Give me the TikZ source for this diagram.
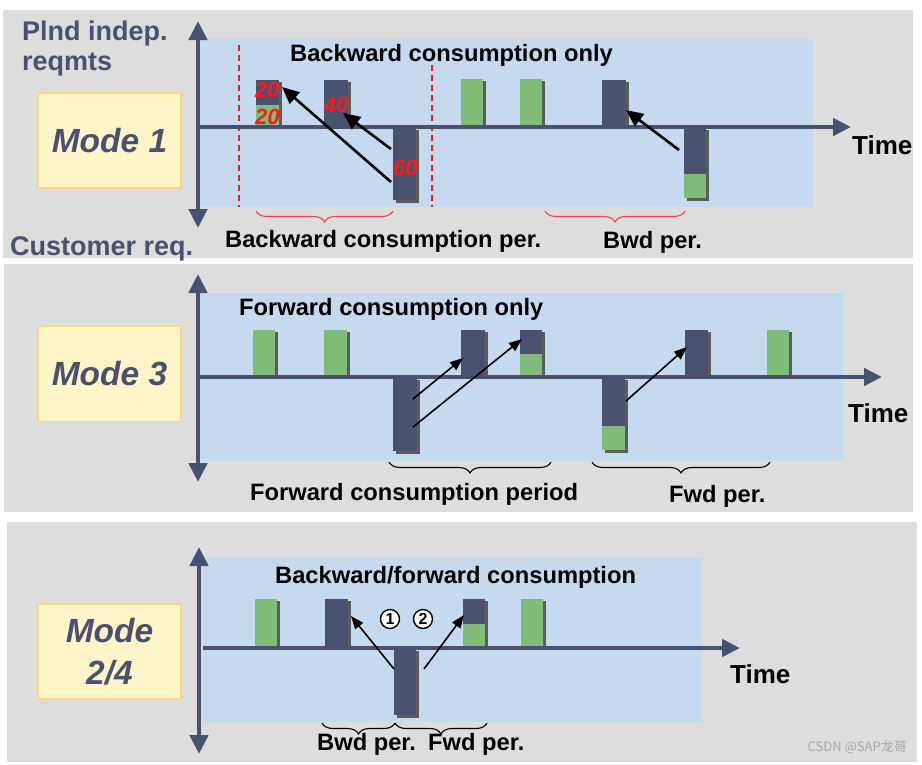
\documentclass[tikz,border=0pt]{standalone}
\usepackage{fontspec}
\setmainfont{Liberation Sans}
\newfontfamily\cjkf{Noto Sans CJK SC}
\usetikzlibrary{arrows.meta,decorations.pathreplacing,shadows}
\definecolor{bgc}{HTML}{DDDDDD}
\definecolor{bluec}{HTML}{C6DAEF}
\definecolor{axisc}{HTML}{4A5170}
\definecolor{barc}{HTML}{4A5270}
\definecolor{greenc}{HTML}{80BB78}
\definecolor{shadc}{HTML}{5C5C5C}
\definecolor{modefill}{HTML}{FFF5C9}
\definecolor{modedraw}{HTML}{FFD47F}
\definecolor{numred}{HTML}{FF1A1A}
\definecolor{bracered}{HTML}{EE4455}
\definecolor{dashred}{HTML}{E8202A}
\definecolor{wmark}{HTML}{A8A8A8}
\tikzset{
  panel/.style={fill=bgc},
  plotarea/.style={fill=bluec},
  darkbar/.style={fill=barc, inner sep=0pt, minimum width=23pt,
    drop shadow={shadow xshift=3pt,shadow yshift=-2.5pt,fill=shadc,opacity=1}},
  greenbar/.style={darkbar, fill=greenc},
  axisline/.style={draw=axisc, line width=4.5pt},
  vaxis/.style={axisline, {Triangle[length=19pt,width=18pt]}-{Triangle[length=19pt,width=18pt]}},
  haxis/.style={axisline, -{Triangle[length=18pt,width=17pt]}},
  modebox/.style={fill=modefill, draw=modedraw, line width=1.2pt, minimum width=143pt,
    minimum height=95pt, text=axisc, font=\fontsize{33.5}{42}\selectfont\bfseries\itshape, align=center},
  lbl/.style={inner sep=0pt, anchor=base west, font=\fontsize{23.7}{28}\selectfont\bfseries},
  sidelbl/.style={lbl, text=axisc, font=\fontsize{27}{31}\selectfont\bfseries},
  timelbl/.style={lbl, font=\fontsize{26}{30}\selectfont\bfseries},
  numlbl/.style={inner sep=0pt, anchor=base west, text=numred, font=\fontsize{22}{26}\selectfont\bfseries\itshape},
  bigarrow/.style={draw=black, line width=2.6pt, -{Triangle[length=17pt,width=15pt]}},
  thinarrow/.style={draw=black, line width=1.6pt, -{Triangle[length=13pt,width=10pt]}},
  redbrace/.style={draw=bracered, line width=1.1pt, decorate, decoration={brace, amplitude=11pt}},
  blackbrace/.style={draw=black, line width=1.1pt, decorate, decoration={brace, amplitude=11pt}},
  perdash/.style={draw=dashred, line width=1.5pt, dash pattern=on 6pt off 4pt},
  circnum/.style={circle, draw=black, fill=white, line width=1.4pt, minimum size=19pt, inner sep=0pt,
    font=\fontsize{16}{16}\selectfont\bfseries}
}
\begin{document}
\begin{tikzpicture}[x=1pt,y=-1pt]
\useasboundingbox (0,0) rectangle (922,764);
\fill[white] (0,0) rectangle (922,764);
% ---------------- panels
\fill[panel] (3,10) rectangle (913,258);
\fill[panel] (4,264) rectangle (913,512);
\fill[panel] (7,522) rectangle (917,762);
\fill[plotarea] (200,39) rectangle (813,207);
\fill[plotarea] (200,293) rectangle (843,461);
\fill[plotarea] (203,558) rectangle (702,722);

% ================= Panel 1 (Mode 1)
\coordinate (d1a) at (239,45); \coordinate (d1b) at (239,207);
\coordinate (d2a) at (432,65); \coordinate (d2b) at (432,207);
\draw[perdash] (d1a) -- (d1b);
\draw[perdash] (d2a) -- (d2b);

\node[darkbar, minimum width=23pt, minimum height=47pt, anchor=south west] (p1b1) at (256,127) {};
\fill[greenc] (p1b1.south west) rectangle ([yshift=22pt]p1b1.south east);
\node[darkbar, minimum width=24pt, minimum height=47pt, anchor=south west] (p1b2) at (324,127) {};
\node[darkbar, minimum width=23pt, minimum height=73pt, anchor=north west] (p1b3) at (393,127) {};
\node[greenbar, minimum width=22pt, minimum height=48pt, anchor=south west] (p1b4) at (461,127) {};
\node[greenbar, minimum width=22pt, minimum height=48pt, anchor=south west] (p1b5) at (520,127) {};
\node[darkbar, minimum width=24pt, minimum height=47pt, anchor=south west] (p1b6) at (602,127) {};
\node[darkbar, minimum width=22pt, minimum height=71pt, anchor=north west] (p1b7) at (684,127) {};
\fill[greenc] (p1b7.south west) rectangle ([yshift=24pt]p1b7.south east);

\coordinate (p1vt) at (198,21); \coordinate (p1vb) at (198,228);
\coordinate (p1h0) at (200,127); \coordinate (p1h1) at (851,127);
\draw[vaxis] (p1vt) -- (p1vb);
\draw[haxis] (p1h0) -- (p1h1);

\node[numlbl] (n20a) at (255,97) {20};
\node[numlbl] (n20b) at (255,124) {20};
\node[numlbl] (n40) at (324,112) {40};
\node[numlbl] (n60) at (393,175) {60};

\coordinate (a1s) at (391,182); \coordinate (a1e) at (282,87);
\coordinate (a2s) at (391,149); \coordinate (a2e) at (343,113);
\coordinate (a3s) at (679,150); \coordinate (a3e) at (626,110);
\draw[bigarrow] (a1s) -- (a1e);
\draw[bigarrow] (a2s) -- (a2e);
\draw[bigarrow] (a3s) -- (a3e);

\coordinate (br1a) at (393,211); \coordinate (br1b) at (256,211);
\coordinate (br2a) at (685,211); \coordinate (br2b) at (545,211);
\draw[redbrace] (br1a) -- (br1b);
\draw[redbrace] (br2a) -- (br2b);

\node[modebox] (m1) at (109.5,140.5) {Mode 1};
\node[sidelbl] (pl1) at (22,40) {Plnd indep.};
\node[sidelbl] (pl2) at (22,70) {reqmts};
\node[sidelbl] (cust) at (10,255) {Customer req.};
\node[lbl] (t1) at (290,61) {Backward consumption only};
\node[timelbl] (time1) at (852,154) {Time};
\node[lbl] (bcp) at (225,247) {Backward consumption per.};
\node[lbl] (bwd1) at (603,248) {Bwd per.};

% ================= Panel 2 (Mode 3)
\node[greenbar, minimum width=22pt, minimum height=47pt, anchor=south west] (p2b1) at (253,377) {};
\node[greenbar, minimum width=23pt, minimum height=47pt, anchor=south west] (p2b2) at (324,377) {};
\node[darkbar, minimum width=24pt, minimum height=74pt, anchor=north west] (p2b3) at (393,377) {};
\node[darkbar, minimum width=24pt, minimum height=47pt, anchor=south west] (p2b4) at (461,377) {};
\node[darkbar, minimum width=22pt, minimum height=47pt, anchor=south west] (p2b5) at (520,377) {};
\fill[greenc] (p2b5.south west) rectangle ([yshift=23pt]p2b5.south east);
\node[darkbar, minimum width=23pt, minimum height=73pt, anchor=north west] (p2b6) at (602,377) {};
\fill[greenc] (p2b6.south west) rectangle ([yshift=24pt]p2b6.south east);
\node[darkbar, minimum width=23pt, minimum height=47pt, anchor=south west] (p2b7) at (685,377) {};
\node[greenbar, minimum width=22pt, minimum height=47pt, anchor=south west] (p2b8) at (767,377) {};

\coordinate (p2vt) at (198,274); \coordinate (p2vb) at (198,482);
\coordinate (p2h0) at (200,377); \coordinate (p2h1) at (882,377);
\draw[vaxis] (p2vt) -- (p2vb);
\draw[haxis] (p2h0) -- (p2h1);

\coordinate (b1s) at (413,399); \coordinate (b1e) at (463,358);
\coordinate (b2s) at (413,427); \coordinate (b2e) at (522,339);
\coordinate (b3s) at (626,401); \coordinate (b3e) at (687,347);
\draw[thinarrow] (b1s) -- (b1e);
\draw[thinarrow] (b2s) -- (b2e);
\draw[thinarrow] (b3s) -- (b3e);

\coordinate (br3a) at (551,462); \coordinate (br3b) at (389,462);
\coordinate (br4a) at (770,462); \coordinate (br4b) at (592,462);
\draw[blackbrace] (br3a) -- (br3b);
\draw[blackbrace] (br4a) -- (br4b);

\node[modebox] (m3) at (109.5,374) {Mode 3};
\node[lbl] (t2) at (239,315) {Forward consumption only};
\node[timelbl] (time2) at (848,422) {Time};
\node[lbl] (fcp) at (250,500) {Forward consumption period};
\node[lbl] (fwd1) at (669,502) {Fwd per.};

% ================= Panel 3 (Mode 2/4)
\node[greenbar, minimum width=22pt, minimum height=49pt, anchor=south west] (p3b1) at (255,648) {};
\node[darkbar, minimum width=23pt, minimum height=49pt, anchor=south west] (p3b2) at (325,648) {};
\node[darkbar, minimum width=22pt, minimum height=67pt, anchor=north west] (p3b3) at (394,648) {};
\node[darkbar, minimum width=22pt, minimum height=49pt, anchor=south west] (p3b4) at (463,648) {};
\fill[greenc] (p3b4.south west) rectangle ([yshift=24pt]p3b4.south east);
\node[greenbar, minimum width=22pt, minimum height=49pt, anchor=south west] (p3b5) at (521,648) {};

\coordinate (p3vt) at (199,547); \coordinate (p3vb) at (199,754);
\coordinate (p3h0) at (203,648); \coordinate (p3h1) at (740,648);
\draw[vaxis] (p3vt) -- (p3vb);
\draw[haxis] (p3h0) -- (p3h1);

\coordinate (c1s) at (394,669); \coordinate (c1e) at (351,616);
\coordinate (c2s) at (424,669); \coordinate (c2e) at (464,615);
\draw[thinarrow] (c1s) -- (c1e);
\draw[thinarrow] (c2s) -- (c2e);

\node[circnum] (k1) at (390,619) {1};
\node[circnum] (k2) at (423,619) {2};

\coordinate (br5a) at (395,723); \coordinate (br5b) at (322,723);
\coordinate (br6a) at (487,723); \coordinate (br6b) at (395,723);
\draw[blackbrace] (br5a) -- (br5b);
\draw[blackbrace] (br6a) -- (br6b);

\node[modebox] (m24) at (109.5,651.5) {Mode\\2/4};
\node[lbl] (t3) at (275,583) {Backward/forward consumption};
\node[timelbl] (time3) at (730,683) {Time};
\node[lbl] (bwd2) at (317,750) {Bwd per.};
\node[lbl] (fwd2) at (428,750) {Fwd per.};

\node[inner sep=0pt, anchor=base east, text=wmark, font=\cjkf\fontsize{13}{15}\selectfont] (wm) at (907,751) {CSDN @SAP龙哥};
\end{tikzpicture}
\end{document}
